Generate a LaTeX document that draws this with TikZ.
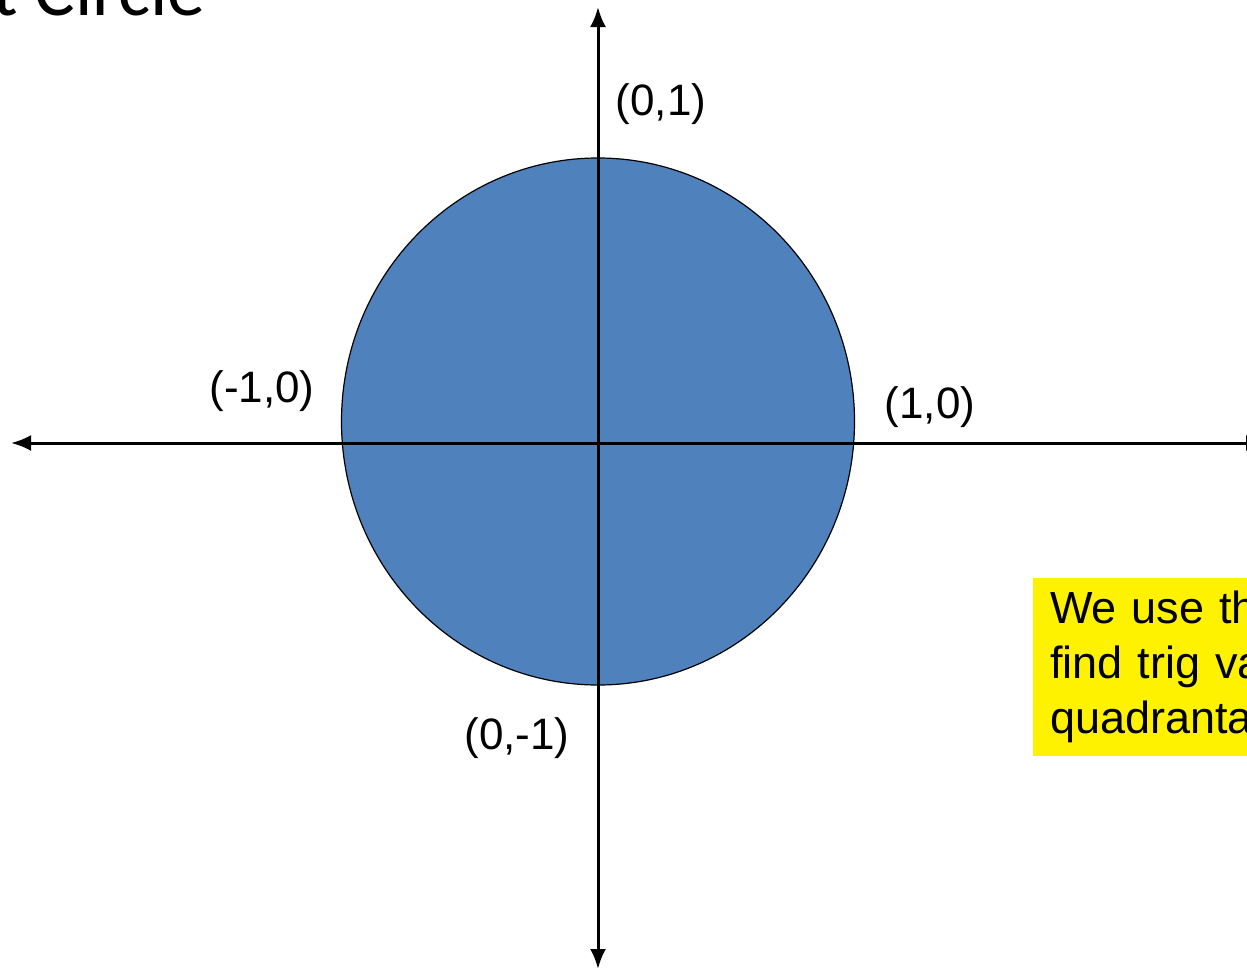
\documentclass[tikz,border=0pt]{standalone}
\usepackage{fontspec}
\setmainfont{Liberation Sans}
\newfontfamily\titlefont{Carlito}
\usetikzlibrary{arrows.meta}
\definecolor{diskblue}{HTML}{4F81BD}

\begin{document}
\begin{tikzpicture}[
  x=1pt, y=-1pt,
  >={Latex[length=20pt,width=16pt]},
  axis/.style={<->, line width=3pt, black},
  disk/.style={fill=diskblue, draw=black, line width=1.2pt},
  point label/.style={font=\fontsize{44}{50}\selectfont, inner sep=0pt},
  note/.style={fill=yellow, anchor=north west, align=left, inner xsep=17pt, inner ysep=13pt,
    font=\fontsize{45}{55}\selectfont, text width=300pt}
]
  % pixel coordinates, origin top left
  \useasboundingbox (0,0) rectangle (1247,969);

  \draw[disk] (598,421.5) ellipse [x radius=256.5, y radius=263.5];

  \coordinate (west) at (11,443);
  \coordinate (east) at (1266,443);
  \coordinate (north) at (598,7);
  \coordinate (south) at (598,969);
  \draw[axis] (west) -- (east);
  \draw[axis] (north) -- (south);

  \node[point label] (top)    at (661,104) {(0,1)};
  \node[point label] (left)   at (262,391) {(-1,0)};
  \node[point label] (right)  at (930,407) {(1,0)};
  \node[point label] (bottom) at (517,738) {(0,-1)};

  \node[font=\titlefont\fontsize{76}{80}\selectfont, anchor=base west, inner sep=0pt]
    (title) at (-8,15) {t Circle};

  \node[note] (remark) at (1033,578) {We use th\\find trig va\\quadranta};
\end{tikzpicture}
\end{document}
